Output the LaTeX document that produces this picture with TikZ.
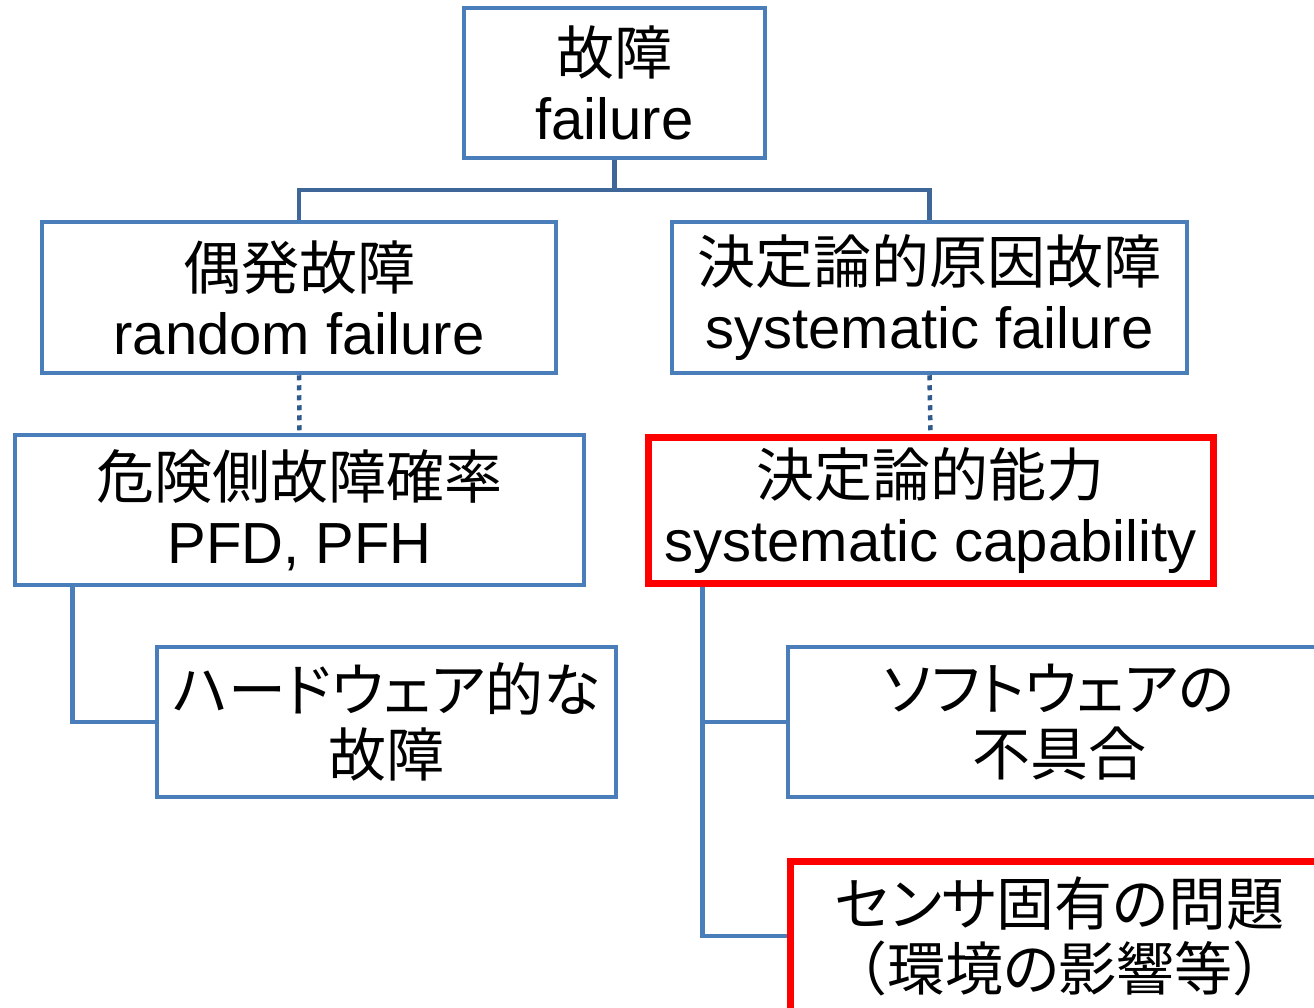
\documentclass[tikz,border=0pt]{standalone}
\usepackage{fontspec}
\setmainfont{Liberation Sans}
\newfontfamily\cjk{Noto Sans CJK JP}
\newfontfamily\cjkp{Noto Sans CJK JP}[RawFeature=+palt]
\definecolor{boxblue}{HTML}{4A7EBB}
\definecolor{linkblue}{HTML}{3F6698}
\definecolor{dotblue}{HTML}{2E5A8E}
\definecolor{alertred}{HTML}{FF0000}
\tikzset{
  box/.style={draw=boxblue, line width=4.5pt, fill=white, rectangle, inner sep=0pt,
    align=center, font=\fontsize{58}{65}\selectfont, text=black},
  redbox/.style={box, draw=alertred, line width=7pt},
  link/.style={draw=linkblue, line width=4.5pt},
  sidelink/.style={draw=boxblue, line width=4.5pt},
  dotlink/.style={draw=dotblue, line width=4.5pt, dash pattern=on 5pt off 5pt}
}
\begin{document}
\begin{tikzpicture}[x=1pt,y=-1pt]
\clip (0,0) rectangle (1314,1007);
\fill[white] (0,0) rectangle (1314,1007);
\node[box, minimum width=301pt, minimum height=150pt] (t) at (614.5,83) {{\cjk 故障}\\failure};
\node[box, minimum width=514pt, minimum height=151pt] (r) at (299,297.5) {{\cjk 偶発故障}\\random failure};
\node[box, minimum width=515pt, minimum height=151pt] (s) at (929.5,297.5) {{\cjk 決定論的原因故障}\\systematic failure};
\node[box, minimum width=569pt, minimum height=150pt] (p) at (299.5,510) {{\cjk 危険側故障確率}\\PFD, PFH};
\node[redbox, minimum width=565pt, minimum height=146pt] (c) at (930.5,510.5) {{\cjk 決定論的能力}\\systematic capability};
\node[box, minimum width=459pt, minimum height=150pt] (h) at (386.5,722) {{\cjkp ハードウェア的な}\\{\cjk 故障}};
\node[box, minimum width=542pt, minimum height=150pt] (w) at (1059,722) {{\cjkp ソフトウェアの}\\{\cjk 不具合}};
\node[redbox, minimum width=540pt, minimum height=150pt] (n) at (1060,936) {{\cjkp センサ}{\cjk 固有}{\cjkp の}{\cjk 問題}\\{\cjk （環境}{\cjkp の}{\cjk 影響等）}};
\coordinate (j) at (614.5,190);
\draw[link] (t.south) -- (j);
\draw[link] (r.north) |- (j) -| (s.north);
\draw[dotlink] (r.south) -- (p.north);
\draw[dotlink] (s.south) -- (c.north);
\draw[sidelink] ([xshift=59.5pt]p.south west) |- (h.west);
\draw[sidelink] ([xshift=58pt]c.south west) |- (w.west);
\draw[sidelink] ([xshift=58pt]c.south west) |- (n.west);
\end{tikzpicture}
\end{document}
